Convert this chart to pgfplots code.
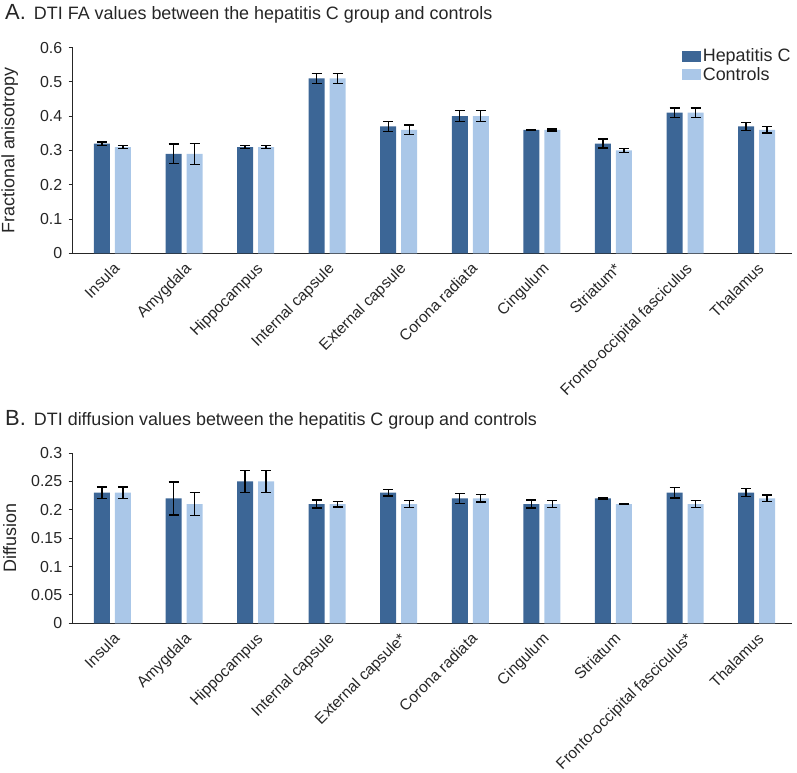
\documentclass[border=0pt]{standalone}
\usepackage{pgfplots}
\pgfplotsset{compat=1.18}
\usepackage{fontspec}
\setmainfont{Liberation Sans}
\definecolor{hepc}{RGB}{60,102,150}
\definecolor{ctrl}{RGB}{170,199,232}
\definecolor{txt}{RGB}{38,38,38}
\newcommand{\fs}[1]{\fontsize{#1}{#1}\selectfont}
\pgfplotsset{
 mybar/.style={
  scale only axis, width=719bp,
  xmin=-0.555, xmax=9.49, ymin=0,
  axis x line*=bottom, axis y line*=left,
  axis line style={-, draw=black!85, line width=0.9bp},
  xtick={0,...,9},
  x tick style={draw=none},
  y tick style={draw=black!85, line width=0.9bp},
  tick align=outside, major tick length=4bp,
  xticklabel style={rotate=45, anchor=north east, font=\fs{15.6}, text=txt, inner sep=3bp},
  yticklabel style={font=\fs{16}, text=txt, xshift=-3bp},
  ylabel style={at={(axis description cs:-0.0876,0.5)}, anchor=center, font=\fs{18}, text=txt},
  title style={at={(0,1)}, anchor=base west, xshift=-71bp, yshift=22bp, font=\fs{18}, text=txt},
  ybar, bar width=16bp,
  clip=false,
  every axis plot/.append style={draw=none,
    error bars/y dir=both, error bars/y explicit,
    error bars/error bar style={line width=1.3bp, black},
    error bars/error mark options={rotate=90, line width=1.3bp, black, mark size=5bp}},
  legend image code/.code={\fill[#1] (0bp,-5.5bp) rectangle (19bp,5.5bp);},
 }
}
\begin{document}
\begin{tikzpicture}
\useasboundingbox (-72.7bp,253.3bp) rectangle (724.3bp,-519.7bp);
\begin{axis}[mybar,
  height=205.7bp, ymax=0.6,
  ytick={0,0.1,0.2,0.3,0.4,0.5,0.6},
  yticklabels={0,0.1,0.2,0.3,0.4,0.5,0.6},
  xticklabels={Insula,Amygdala,Hippocampus,Internal capsule,External capsule,Corona radiata,Cingulum,Striatum*,Fronto-occipital fasciculus,Thalamus},
  ylabel={Fractional anisotropy},
  title={{\fs{22}A.}\hspace{8bp}DTI FA values between the hepatitis C group and controls},
  legend style={draw=none, fill=none, at={(1,1)}, anchor=north east, xshift=2bp, yshift=2bp, font=\fs{18}, text=txt, legend cell align=left, row sep=0bp, inner sep=1bp},
]
\addplot[fill=hepc, bar shift=-10.5bp] coordinates {
 (0,0.32) +- (0,0.005)
 (1,0.29) +- (0,0.029)
 (2,0.31) +- (0,0.005)
 (3,0.51) +- (0,0.014)
 (4,0.37) +- (0,0.014)
 (5,0.40) +- (0,0.016)
 (6,0.36) +- (0,0.001)
 (7,0.32) +- (0,0.013)
 (8,0.41) +- (0,0.014)
 (9,0.37) +- (0,0.011)
};
\addplot[fill=ctrl, bar shift=10.5bp] coordinates {
 (0,0.31) +- (0,0.005)
 (1,0.29) +- (0,0.031)
 (2,0.31) +- (0,0.005)
 (3,0.51) +- (0,0.014)
 (4,0.36) +- (0,0.014)
 (5,0.40) +- (0,0.016)
 (6,0.36) +- (0,0.003)
 (7,0.30) +- (0,0.006)
 (8,0.41) +- (0,0.014)
 (9,0.36) +- (0,0.009)
};
\legend{Hepatitis C, Controls}
\end{axis}
\begin{axis}[mybar, at={(0,-370bp)},
  height=170.3bp, ymax=0.3,
  ytick={0,0.05,0.1,0.15,0.2,0.25,0.3},
  yticklabels={0,0.05,0.1,0.15,0.2,0.25,0.3},
  xticklabels={Insula,Amygdala,Hippocampus,Internal capsule,External capsule*,Corona radiata,Cingulum,Striatum,Fronto-occipital fasciculus*,Thalamus},
  ylabel={Diffusion},
  title={{\fs{22}B.}\hspace{8bp}DTI diffusion values between the hepatitis C group and controls},
]
\addplot[fill=hepc, bar shift=-10.5bp] coordinates {
 (0,0.23) +- (0,0.010)
 (1,0.22) +- (0,0.029)
 (2,0.25) +- (0,0.019)
 (3,0.21) +- (0,0.007)
 (4,0.23) +- (0,0.006)
 (5,0.22) +- (0,0.009)
 (6,0.21) +- (0,0.007)
 (7,0.22) +- (0,0.001)
 (8,0.23) +- (0,0.009)
 (9,0.23) +- (0,0.007)
};
\addplot[fill=ctrl, bar shift=10.5bp] coordinates {
 (0,0.23) +- (0,0.010)
 (1,0.21) +- (0,0.020)
 (2,0.25) +- (0,0.019)
 (3,0.21) +- (0,0.005)
 (4,0.21) +- (0,0.006)
 (5,0.22) +- (0,0.0065)
 (6,0.21) +- (0,0.0065)
 (7,0.21) +- (0,0.001)
 (8,0.21) +- (0,0.0065)
 (9,0.22) +- (0,0.006)
};
\end{axis}
\end{tikzpicture}
\end{document}
